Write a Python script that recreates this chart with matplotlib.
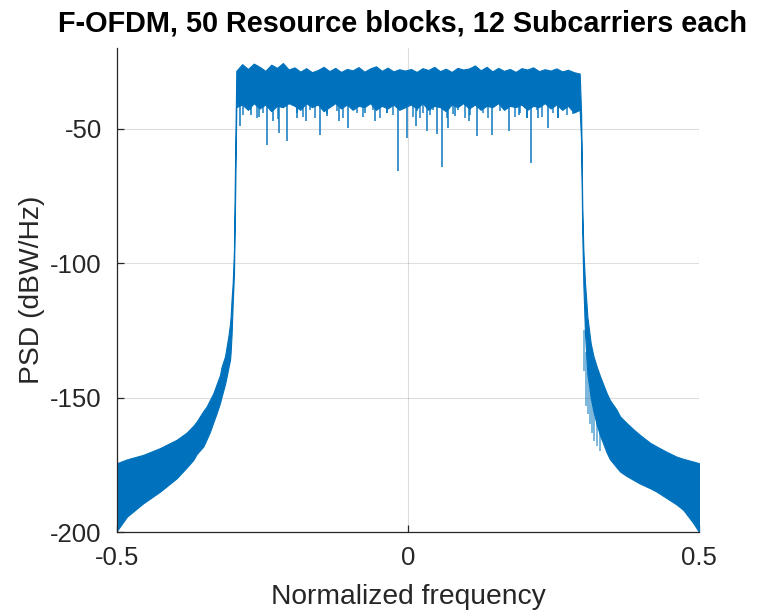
import matplotlib
matplotlib.use("Agg")
import matplotlib.pyplot as plt
import numpy as np

plt.rcParams['font.family'] = ['Liberation Sans', 'DejaVu Sans']

title = "F-OFDM, 50 Resource blocks, 12 Subcarriers each"
xlabel = "Normalized frequency"
ylabel = "PSD (dBW/Hz)"
xticks = [-0.5, 0, 0.5]
xtick_labels = ["-0.5", "0", "0.5"]
yticks = [-200, -150, -100, -50]
ytick_labels = ["-200", "-150", "-100", "-50"]

# Left skirt (frequency, upper envelope dB, lower envelope dB)
left_f = [-0.5, -0.4829, -0.4548, -0.4261, -0.3974, -0.3802, -0.3689, -0.3631,
          -0.3517, -0.3459, -0.3402, -0.3345, -0.3288, -0.3230, -0.3202, -0.3144,
          -0.3116, -0.3087, -0.3058, -0.3047, -0.3030, -0.3012, -0.2990, -0.2970]
left_up = [-174.4, -173.0, -171.3, -168.8, -165.7, -163.0, -160.5, -158.9,
           -155.0, -153.3, -150.8, -148.4, -145.0, -141.6, -138.5, -134.7,
           -131.0, -127.3, -122.5, -119.8, -113.0, -107.4, -95, -60]
left_lo = [-199.5, -194.3, -189.3, -185.0, -180.0, -176.0, -173.2, -171.0,
           -168.2, -165.5, -162.7, -159.2, -155.8, -152.0, -149.6, -145.0,
           -142.2, -139.0, -136.0, -133.0, -126.0, -115.0, -104, -75]

# Pass band (upper and lower edges of the dense trace)
pass_f = [-0.295, -0.285, -0.275, -0.265, -0.255, -0.245, -0.235, -0.225, -0.215, -0.205,
          -0.195, -0.185, -0.175, -0.165, -0.155, -0.145, -0.135, -0.125, -0.115, -0.105,
          -0.095, -0.085, -0.075, -0.065, -0.055, -0.045, -0.035, -0.025, -0.015, -0.005,
          0.005, 0.015, 0.025, 0.035, 0.045, 0.055, 0.065, 0.075, 0.085, 0.095,
          0.105, 0.115, 0.125, 0.135, 0.145, 0.155, 0.165, 0.175, 0.185, 0.195,
          0.205, 0.215, 0.225, 0.235, 0.245, 0.255, 0.265, 0.275, 0.285, 0.295]
pass_up = [-28.5, -26.0, -27.8, -25.8, -27.0, -28.5, -26.2, -27.4, -25.6, -28.0,
           -27.2, -28.8, -27.5, -29.0, -28.2, -27.0, -28.6, -27.4, -28.9, -27.8,
           -28.3, -27.1, -28.8, -27.6, -26.8, -28.5, -27.3, -28.7, -27.9, -28.4,
           -27.8, -28.9, -27.5, -28.2, -27.0, -28.6, -27.7, -28.9, -27.4, -28.0,
           -27.6, -26.5, -28.3, -27.0, -28.7, -27.4, -28.5, -27.8, -28.9, -27.5,
           -28.0, -27.2, -28.6, -27.9, -28.4, -27.6, -28.7, -28.1, -29.0, -29.5]
pass_lo = [-42, -41, -43, -40.5, -42.5, -41, -43.5, -41.5, -42, -40.5,
           -41.5, -43, -40.5, -42, -41, -43.5, -42, -40.5, -42.5, -41,
           -43, -41.5, -42, -40.5, -43, -41.5, -42.5, -41, -43, -42,
           -41, -42.5, -40.5, -43, -41.5, -42, -43.5, -41, -42, -40.5,
           -42.5, -41, -43, -41.5, -42, -40.5, -43, -41.5, -42, -41,
           -43, -41.5, -42, -40.5, -42.5, -41, -43, -41.5, -44, -43]

# Right skirt
right_f = [0.2975, 0.2995, 0.3013, 0.3041, 0.3070, 0.3081, 0.3139, 0.3185, 0.3242,
           0.3299, 0.3414, 0.3471, 0.3586, 0.3643, 0.3758, 0.3872, 0.3986, 0.4158,
           0.4273, 0.4445, 0.4617, 0.4731, 0.4903, 0.5]
right_up = [-45, -80, -95, -107.4, -116.0, -119.8, -129.8, -134.5, -138.5,
            -142.0, -148.4, -151.0, -154.6, -157.0, -159.5, -161.8, -163.9, -166.8,
            -168.2, -170.2, -172.0, -172.8, -173.8, -174.4]
right_lo = [-55, -90, -108, -126, -137, -141, -150, -155, -160,
            -164.0, -170.5, -173.0, -176.0, -177.5, -179.2, -180.6, -182.0, -183.7,
            -185.0, -187.4, -189.8, -191.8, -196.7, -200]

# Light spikes below the dense part of the right skirt (top and bottom dB)
rspike_f = [0.3030, 0.3060, 0.3095, 0.3125, 0.3160, 0.3200, 0.3250, 0.3300]
rspike_top = [-125, -133, -141, -147, -151, -155, -159, -162]
rspike_d = [-140, -153, -156, -160, -163, -166, -168, -170]

# Deep dips inside the pass band (frequency, depth dB)
dip_f = [-0.289, -0.270, -0.256, -0.243, -0.232, -0.221, -0.208, -0.190,
         -0.175, -0.151, -0.140, -0.118, -0.103, -0.074, -0.057, -0.036, -0.018,
         -0.002, 0.014, 0.032, 0.049, 0.058, 0.069, 0.081, 0.105, 0.118, 0.145,
         0.174, 0.190, 0.205, 0.211, 0.223, 0.240, 0.258, 0.286]
dip_d = [-49, -45, -45.5, -56, -47, -51.5, -54.5, -46,
         -47, -52.2, -45.4, -47, -49.8, -44, -47.3, -44, -65.9,
         -53.5, -49, -51, -52, -64.4, -49.6, -45.4, -47, -52.9, -52.2,
         -50.8, -45, -46, -62.8, -46, -49.8, -46, -44]

# Shallower streaks below the dense trace
streak_f = [-0.2835, -0.2715, -0.2595, -0.249, -0.2234, -0.1907, -0.1804, -0.1684,
            -0.1598, -0.1392, -0.122, -0.1117, -0.0876, -0.0773, -0.0601, -0.0481,
            -0.0361, -0.0258, 0.0086, 0.0155, 0.0206, 0.0258, 0.0378, 0.043, 0.067,
            0.0773, 0.0859, 0.0979, 0.1065, 0.1289, 0.1375, 0.1581, 0.1838, 0.1924,
            0.2045, 0.2216, 0.2302, 0.2491, 0.2577, 0.2732, 0.2835]
streak_d = [-45, -43, -46, -44, -46.5, -44, -45.5, -43, -46, -44.5, -43.5, -46,
            -44, -45.5, -43, -46, -44, -45, -45.5, -43.5, -46, -44, -45, -43, -46,
            -44.5, -43, -46, -45, -44, -46, -43.5, -45.5, -44, -46, -43, -45.5,
            -44, -46, -45, -44.5]

f_all = np.array(left_f + pass_f + right_f)
up_all = np.array(left_up + pass_up + right_up)
lo_all = np.array(left_lo + pass_lo + right_lo)

W, H = 763, 616
fig = plt.figure(figsize=(W / 100, H / 100), dpi=100)
ax = fig.add_axes([117 / W, 1 - 532 / H, (699 - 117) / W, (532 - 48) / H])

blue = '#0072BD'
ax.fill_between(f_all, lo_all, up_all, color=blue, linewidth=0.8, edgecolor=blue)
ax.vlines(streak_f, -40, streak_d, color=blue, linewidth=1.4, alpha=0.7)
ax.vlines(dip_f, -40, dip_d, color=blue, linewidth=1.4, alpha=0.75)
ax.vlines(rspike_f, rspike_top, rspike_d, color=blue, linewidth=1.2, alpha=0.6)

ax.set_xlim(-0.5, 0.5)
ax.set_ylim(-200, -20)
ax.set_xticks(xticks)
ax.set_xticklabels(xtick_labels)
ax.set_yticks(yticks)
ax.set_yticklabels(ytick_labels)

ax.grid(True, color='#262626', alpha=0.15, linewidth=0.8)
ax.set_axisbelow(True)
for s in ['top', 'right']:
    ax.spines[s].set_visible(False)
for s in ['left', 'bottom']:
    ax.spines[s].set_color('#262626')
    ax.spines[s].set_linewidth(0.9)
ax.tick_params(direction='in', length=5, width=0.9, colors='#262626',
               labelsize=18.5)
ax.tick_params(axis='y', pad=11)
ax.tick_params(axis='x', pad=10)

ax.set_xlabel(xlabel, fontsize=20.3, color='#262626', labelpad=10)
ax.set_ylabel(ylabel, fontsize=20.3, color='#262626', labelpad=4)
ax.set_title(title, fontsize=20.8, fontweight='bold', color='black', pad=12, x=0.49)

fig.savefig('out.png', dpi=100)
